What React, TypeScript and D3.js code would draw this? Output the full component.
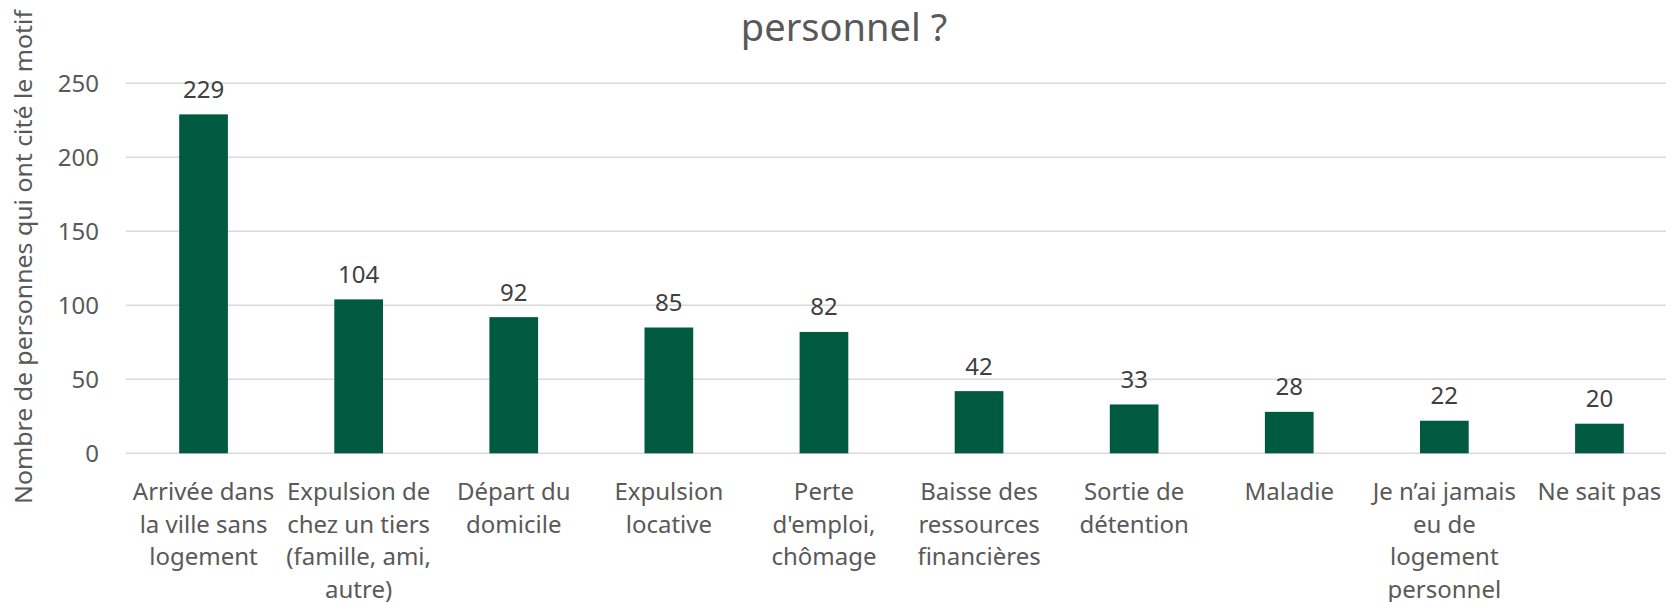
import React from 'react'
import * as d3 from 'd3'

const categories = [
  ['Arrivée dans', 'la ville sans', 'logement'],
  ['Expulsion de', 'chez un tiers', '(famille, ami,', 'autre)'],
  ['Départ du', 'domicile'],
  ['Expulsion', 'locative'],
  ['Perte', "d'emploi,", 'chômage'],
  ['Baisse des', 'ressources', 'financières'],
  ['Sortie de', 'détention'],
  ['Maladie'],
  ['Je n’ai jamais', 'eu de', 'logement', 'personnel'],
  ['Ne sait pas'],
]
const counts = [229, 104, 92, 85, 82, 42, 33, 28, 22, 20]
const yTicks = [0, 50, 100, 150, 200, 250]

const title = 'personnel ?'
const yLabel = 'Nombre de personnes qui ont cité le motif'

const W = 1666
const H = 602
const font = '"Noto Sans", sans-serif'

export default function App() {
  const x = d3.scaleBand<number>()
    .domain(d3.range(counts.length))
    .range([126, 1677])
    .paddingInner(0.686)
    .paddingOuter(0.343)

  const y = d3.scaleLinear()
    .domain([0, 250])
    .range([453.3, 83.3])

  return (
    <div style={{position: 'fixed', left: 0, top: 0, width: W, height: H, overflow: 'hidden', background: '#fff'}}>
      <svg width={W} height={H} style={{display: 'block'}} fontFamily={font}>
        <text x={844} y={40.7} fontSize={38} fill="#595959" textAnchor="middle">{title}</text>

        <text transform={`translate(31.5, 257) rotate(-90)`} fontSize={24} textLength={494}
          lengthAdjust="spacingAndGlyphs" fill="#595959" textAnchor="middle">{yLabel}</text>

        <g>
          {yTicks.map(t => (
            <g key={t}>
              <line x1={126} x2={W} y1={y(t)} y2={y(t)} stroke="#d9d9d9" strokeWidth={1.5} />
              <text x={99} y={y(t)} dy="0.38em" fontSize={24} fill="#595959" textAnchor="end">{t}</text>
            </g>
          ))}
        </g>

        <g>
          {counts.map((v, i) => (
            <g key={i}>
              <rect x={x(i)} y={y(v)} width={x.bandwidth()} height={y(0) - y(v)} fill="#005a40" />
              <text x={x(i)! + x.bandwidth() / 2} y={y(v) - 16.5} fontSize={24} fill="#404040"
                textAnchor="middle">{v}</text>
            </g>
          ))}
        </g>

        <g>
          {categories.map((lines, i) => (
            <text key={i} fontSize={24} fill="#595959" textAnchor="middle">
              {lines.map((l, j) => (
                <tspan key={j} x={x(i)! + x.bandwidth() / 2} y={500 + j * 32.7}>{l}</tspan>
              ))}
            </text>
          ))}
        </g>
      </svg>
    </div>
  )
}
